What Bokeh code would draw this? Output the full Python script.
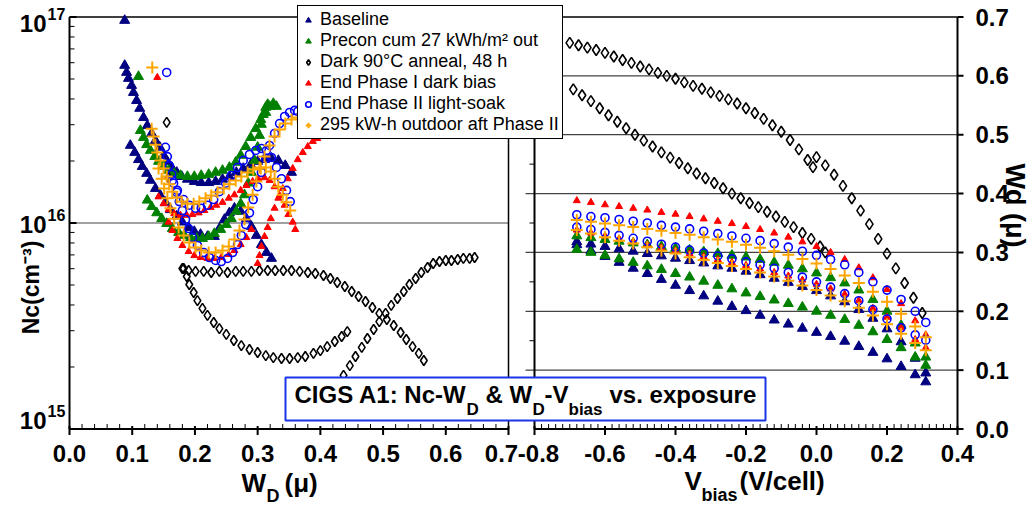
import math
from bokeh.plotting import figure
from bokeh.models import Range1d, LinearScale, LogScale, Label, BoxAnnotation, Legend, LegendItem
from bokeh.core.properties import value
from bokeh.embed import file_html
from bokeh.resources import INLINE

FONT = "Liberation Sans"

# ---------------- Left panel: Nc (units of 1e16 cm^-3) vs W_D (micron) ----------------
base_iso_w = [0.088]
base_iso_nc = [9.62]
base_a_w = [.088,.091,.094,.099,.102,.107,.112,.118,.124,.131,.137,.144,.150,.156,.163,.171,.179,.188,.199,.210,.222,.233,.244,.255,.266,.277,.289,.300,.311,.322,.333,.344,.354]
base_a_nc = [5.82,5.38,5.03,4.65,4.30,3.93,3.60,3.25,2.97,2.72,2.51,2.33,2.13,1.99,1.86,1.76,1.68,1.63,1.59,1.57,1.57,1.59,1.63,1.68,1.76,1.84,1.92,1.99,2.03,2.06,2.01,1.90,1.76]
base_b_w = [.097,.104,.110,.116,.123,.129,.137,.145,.153,.161,.171,.180,.190,.199,.209,.220,.231,.239,.247,.255,.263,.273,.282,.290,.298,.306,.314,.322]
base_b_nc = [2.38,2.20,2.03,1.88,1.74,1.61,1.47,1.36,1.26,1.16,1.08,1.01,.951,.909,.880,.860,.860,.940,1.04,1.12,1.18,1.14,1.05,.962,.870,.786,.719,.673]

pre_iso_w = [0.110]
pre_iso_nc = [5.14]
pre_a_w = [.113,.118,.123,.129,.136,.142,.150,.158,.167,.177,.188,.199,.210,.222,.233,.244,.255,.265,.273,.281,.289,.297,.305,.313,.319,.325,.330]
pre_a_nc = [2.81,2.60,2.40,2.25,2.10,1.99,1.88,1.80,1.74,1.70,1.68,1.68,1.70,1.72,1.76,1.80,1.86,1.97,2.13,2.35,2.60,2.87,3.18,3.44,3.68,3.80,3.68]
pre_b_w = [.124,.131,.139,.147,.155,.164,.174,.183,.193,.203,.212,.222,.231,.241,.250,.258,.266,.273,.279,.285,.290,.295,.300,.303,.306,.309,.313,.316]
pre_b_nc = [1.29,1.20,1.12,1.05,.994,.940,.899,.870,.850,.841,.841,.860,.889,.930,.983,1.05,1.14,1.24,1.37,1.56,1.76,2.01,2.33,2.66,3.01,3.36,3.64,3.76]

dark_iso_w = [.155,.158]
dark_iso_nc = [3.08,1.66]
dark_a_w = [.182,.187,.191,.198,.204,.212,.220,.230,.239,.250,.262,.274,.287,.300,.313,.325,.338,.351,.364,.376,.389,.400,.411,.423,.434,.443]
dark_a_nc = [.601,.550,.503,.460,.420,.385,.356,.329,.307,.288,.269,.254,.243,.235,.227,.222,.220,.220,.222,.225,.233,.240,.251,.266,.281,.297]
dark_b_w = [.180,.190,.201,.214,.226,.239,.252,.265,.277,.290,.303,.316,.328,.341,.354,.367,.380,.392,.405,.416,.427,.439,.450,.461,.472,.483,.494,.506,.517,.528,.537,.547,.557,.565]
dark_b_nc = [.601,.588,.582,.582,.575,.582,.575,.582,.582,.582,.588,.588,.588,.588,.588,.582,.575,.569,.556,.538,.514,.492,.465,.440,.416,.389,.364,.340,.318,.294,.272,.251,.233,.215]
dark_c_w = [.437,.447,.456,.466,.475,.485,.494,.504,.513,.523,.533,.542,.552,.561,.571,.580,.590,.600,.609,.619,.628,.638,.646]
dark_c_nc = [.182,.203,.225,.249,.275,.304,.332,.364,.398,.430,.465,.503,.538,.575,.608,.636,.650,.658,.658,.665,.673,.673,.680]

red_iso_w = [0.140]
red_iso_nc = [5.09]
red_a_w = [.142,.150,.158,.167,.177,.187,.196,.206,.215,.225,.234,.244,.254,.263,.273,.282,.292,.301,.311,.319,.327,.335,.343,.349,.356,.360]
red_a_nc = [1.34,1.24,1.16,1.11,1.09,1.09,1.10,1.12,1.15,1.19,1.22,1.26,1.32,1.37,1.44,1.52,1.59,1.64,1.66,1.61,1.50,1.36,1.22,1.10,1.01,.930]
red_b_w = [.158,.164,.172,.180,.190,.199,.209,.220,.231,.242,.254,.263,.273,.282,.290]
red_b_nc = [1.01,.920,.841,.778,.727,.695,.680,.673,.673,.680,.703,.735,.786,.850,.930]
red_c_w = [.300,.303,.306,.311,.316,.321,.327,.333,.340,.348,.356,.364,.372,.380,.388,.395]
red_c_nc = [.636,.695,.769,.860,.951,1.05,1.18,1.32,1.47,1.64,1.84,2.03,2.20,2.35,2.49,2.57]

blue_iso_w = [0.155]
blue_iso_nc = [5.38]
blue_a_w = [.153,.156,.159,.163,.166,.171,.175,.180,.185,.190,.196,.204,.214,.223,.233,.242,.252,.260,.268,.274,.281,.287,.293,.300,.306,.313,.319,.327,.335,.343,.351,.359,.364]
blue_a_nc = [2.33,2.10,1.90,1.72,1.56,1.41,1.27,1.15,1.04,.940,.850,.778,.719,.680,.658,.650,.673,.719,.786,.870,.983,1.12,1.30,1.50,1.76,2.06,2.38,2.72,3.04,3.29,3.44,3.52,3.48]
blue_b_w = [.164,.172,.182,.191,.201,.210,.220,.230,.239,.249,.258,.268,.277,.287,.297,.306,.314,.322,.330,.338,.346,.352]
blue_b_nc = [1.61,1.44,1.30,1.22,1.18,1.18,1.22,1.30,1.42,1.56,1.70,1.86,2.01,2.15,2.25,2.30,2.25,2.08,1.86,1.64,1.44,1.27]

out_iso_w = [0.132]
out_iso_nc = [5.69]
out_a_w = [.131,.134,.137,.140,.145,.150,.155,.159,.164,.171,.179,.188,.198,.207,.217,.226,.236,.246,.255,.265,.274,.284,.293,.303,.313,.321,.327,.333,.340,.346,.352]
out_a_nc = [2.87,2.63,2.40,2.20,2.01,1.84,1.68,1.54,1.42,1.33,1.27,1.24,1.24,1.27,1.32,1.36,1.41,1.47,1.54,1.61,1.68,1.76,1.82,1.86,1.86,1.78,1.64,1.50,1.37,1.26,1.15]
out_b_w = [.142,.147,.151,.156,.161,.167,.174,.182,.191,.201,.210,.222,.233,.244,.254,.263,.271,.279,.285,.292,.298,.305,.311,.319,.327,.335,.344,.354,.364]
out_b_nc = [1.84,1.64,1.47,1.32,1.18,1.05,.951,.870,.804,.760,.735,.719,.719,.735,.769,.831,.920,1.04,1.19,1.37,1.59,1.84,2.10,2.38,2.63,2.84,3.04,3.18,3.25]

# ---------------- Right panel: W_D (micron) vs V_bias (V/cell) ----------------
vbias = [-0.68,-0.64,-0.60,-0.56,-0.52,-0.48,-0.44,-0.40,-0.36,-0.32,-0.28,-0.24,-0.20,-0.16,-0.12,-0.08,-0.04,0.00,0.04,0.08,0.12,0.16,0.20,0.24,0.28,0.31]
wd_base_1 = [.318,.314,.310,.306,.302,.298,.294,.290,.286,.282,.277,.273,.268,.262,.256,.249,.242,.235,.226,.216,.203,.188,.170,.148,.120,.095]
wd_base_2 = [.313,.303,.293,.283,.273,.264,.254,.244,.235,.226,.217,.208,.201,.193,.185,.178,.171,.164,.157,.149,.140,.130,.119,.106,.092,.080]
wd_pre_1 = [.328,.325,.322,.319,.316,.313,.310,.307,.304,.301,.298,.295,.292,.288,.283,.278,.272,.265,.257,.248,.236,.220,.200,.176,.146,.122]
wd_pre_2 = [.305,.300,.295,.289,.283,.277,.271,.264,.258,.251,.244,.238,.231,.225,.219,.213,.207,.200,.193,.186,.176,.165,.152,.138,.122,.108]
wd_red_1 = [.388,.385,.381,.378,.375,.372,.368,.365,.361,.357,.353,.349,.344,.339,.333,.326,.318,.310,.300,.288,.274,.257,.237,.213,.184,.160]
wd_red_2 = [.338,.333,.328,.323,.318,.313,.308,.303,.298,.293,.288,.283,.278,.272,.266,.260,.253,.246,.238,.229,.218,.205,.190,.172,.152,.138]
wd_blue_1 = [.364,.361,.359,.356,.353,.350,.346,.343,.340,.336,.332,.328,.324,.320,.315,.309,.302,.295,.288,.279,.266,.250,.236,.220,.200,.181]
wd_blue_2 = [.343,.339,.334,.329,.324,.319,.314,.309,.304,.299,.294,.289,.284,.279,.273,.266,.258,.250,.241,.230,.218,.203,.187,.172,.160,.151]
wd_out_1 = [.355,.352,.349,.346,.343,.340,.337,.333,.330,.326,.322,.318,.313,.308,.302,.296,.289,.281,.272,.261,.248,.233,.216,.196,.174,.156]
wd_out_2 = [.338,.332,.326,.320,.315,.309,.303,.298,.292,.287,.282,.277,.272,.266,.259,.252,.244,.236,.227,.217,.206,.193,.178,.162,.146,.134]

dark_r1_v = [-0.700,-0.675,-0.650,-0.625,-0.600,-0.575,-0.550,-0.525,-0.500,-0.475,-0.450,-0.425,-0.400,-0.375,-0.350,-0.325,-0.300,-0.275,-0.250,-0.225,-0.200,-0.175,-0.150,-0.125,-0.100,-0.075,-0.050,-0.025,-0.010,
             0.000,0.025,0.050,0.075,0.100,0.125,0.150,0.175,0.200,0.225,0.250,0.275,0.300]
dark_r1_wd = [.656,.652,.648,.644,.639,.633,.627,.622,.616,.611,.605,.600,.595,.589,.583,.578,.572,.566,.560,.553,.545,.537,.527,.516,.505,.491,.475,.457,.445,
              .462,.448,.432,.413,.392,.371,.348,.323,.298,.273,.248,.223,.197]
dark_r2_v = [-0.690,-0.665,-0.640,-0.615,-0.590,-0.565,-0.540,-0.515,-0.490,-0.465,-0.440,-0.415,-0.390,-0.365,-0.340,-0.315,-0.290,-0.265,-0.240,-0.215,-0.190,-0.165,-0.140,-0.115,-0.090,-0.065,-0.040,-0.015,0.010,0.025]
dark_r2_wd = [.577,.567,.557,.545,.533,.522,.511,.500,.490,.480,.470,.461,.452,.443,.434,.426,.418,.409,.400,.392,.384,.377,.369,.361,.352,.343,.333,.323,.310,.300]

# ---------------- ticks ----------------
w_ticks = [0.0, 0.1, 0.2, 0.3, 0.4, 0.5, 0.6, 0.7]
w_tick_labels = ["0.0", "0.1", "0.2", "0.3", "0.4", "0.5", "0.6", "0.7"]
vb_ticks = [-0.8, -0.6, -0.4, -0.2, 0.0, 0.2, 0.4]
vb_tick_labels = ["-0.8", "-0.6", "-0.4", "-0.2", "0.0", "0.2", "0.4"]
wd_ticks = [0.0, 0.1, 0.2, 0.3, 0.4, 0.5, 0.6, 0.7]
wd_tick_labels = ["0.0", "0.1", "0.2", "0.3", "0.4", "0.5", "0.6", "0.7"]
nc_ticks = [1e15, 1e16, 1e17]
nc_tick_exps = ["15", "16", "17"]
nc_grid = [1e16]
wd_grid = [0.1, 0.2, 0.3, 0.4, 0.5, 0.6]

labels = ["Baseline", "Precon cum 27 kWh/m\u00b2 out", "Dark 90\u00b0C anneal, 48 h",
          "End Phase I dark bias", "End Phase II light-soak", "295 kW-h outdoor aft Phase II"]

# ---------------- geometry (pixel placement of the two panels on the canvas) ----------------
CW, CH = 1031, 507
LX0, LX1 = 69.0, 508.0      # left panel W=0 .. 0.7
RX0, RX1 = 534.0, 957.0     # right panel V=-0.8 .. 0.4
YT, YB = 16.5, 428.5        # top / bottom of both panels
W_PX = 0.7 / (LX1 - LX0)
V_PX = 1.2 / (RX1 - RX0)
WD_PX = 0.7 / (YB - YT)
DEC_PX = 2.0 / (YB - YT)

p = figure(width=CW, height=CH, output_backend="svg", toolbar_location=None,
           x_range=Range1d(-LX0 * W_PX, (CW - LX0) * W_PX),
           y_range=Range1d(10 ** (15 - (CH - YB) * DEC_PX), 10 ** (17 + YT * DEC_PX)),
           y_axis_type="log", x_axis_location=None, y_axis_location=None,
           min_border=0, min_border_left=0, min_border_right=0, min_border_top=0, min_border_bottom=0)
p.y_scale = LogScale()
p.outline_line_color = None
p.grid.visible = False
p.background_fill_color = "white"
p.border_fill_color = "white"
p.extra_x_ranges = {"vb": Range1d(-0.8 - RX0 * V_PX, -0.8 + (CW - RX0) * V_PX)}
p.extra_y_ranges = {"wd": Range1d(-(CH - YB) * WD_PX, 0.7 + YT * WD_PX)}
p.extra_x_scales = {"vb": LinearScale()}
p.extra_y_scales = {"wd": LinearScale()}
R = dict(x_range_name="vb", y_range_name="wd")

def seg(x0, y0, x1, y1, width=1.0, color="black", **kw):
    p.segment(x0=x0, y0=y0, x1=x1, y1=y1, line_color=color, line_width=width, **kw)

# ---- left panel frame, grid, axes ----
seg([0], nc_grid, [0.7], nc_grid, 1.2, "#444444")
seg([0, 0.7], [1e17, 1e15], [0.7, 0.7], [1e17, 1e17], 1.5)
seg([0, 0], [1e15, 1e15], [0, 0.7], [1e17, 1e15], 2)
minor_nc = [k * 10 ** d for d in (15, 16) for k in range(2, 10)]
seg([0] * len(minor_nc), minor_nc, [5 * W_PX] * len(minor_nc), minor_nc, 1)
seg([0] * 3, nc_ticks, [7 * W_PX] * 3, nc_ticks, 2)
seg(w_ticks, [1e15 * 10 ** (-6 * DEC_PX)] * 8, w_ticks, [1e15 * 10 ** (3 * DEC_PX)] * 8, 2)
minor_w = [i * 0.02 for i in range(36) if i % 5]
seg(minor_w, [1e15] * len(minor_w), minor_w, [1e15 * 10 ** (5 * DEC_PX)] * len(minor_w), 1)

# ---- right panel frame, grid, axes ----
seg([-0.8 - 9 * V_PX] * 6, wd_grid, [0.4] * 6, wd_grid, 1.2, "#444444", **R)
seg([-0.8], [0.7], [0.4], [0.7], 1.5, **R)
seg([-0.8, 0.4, -0.8], [0, 0, 0], [-0.8, 0.4, 0.4], [0.7, 0.7, 0], 2, **R)
half = [0.05, 0.15, 0.25, 0.35, 0.45, 0.55, 0.65]
seg([-0.8 - 5 * V_PX] * 7, half, [-0.8] * 7, half, 1, **R)
seg([0.4] * 8, wd_ticks, [0.4 + 6 * V_PX] * 8, wd_ticks, 2, **R)
seg(vb_ticks, [-6 * WD_PX] * 7, vb_ticks, [3 * WD_PX] * 7, 2, **R)
minor_v = [-0.8 + i * 0.02 for i in range(61) if i % 10]
seg(minor_v, [0] * len(minor_v), minor_v, [5 * WD_PX] * len(minor_v), 1, **R)

# ---- tick labels (vertically centred) ----
TK = dict(text_font=value(FONT), text_font_style=value("bold"), text_color="black",
          text_baseline=value("middle"))
p.text(x=w_ticks, y=[1e15] * 8, text=w_tick_labels, x_offset=[0, 0, 0, 0, 0, 0, 0, -7], y_offset=24,
       text_align=value("center"), text_font_size=value("24px"), **TK)
p.text(x=vb_ticks, y=[0] * 7, text=vb_tick_labels, x_offset=[4, 0, 0, 0, 0, 0, 0], y_offset=24,
       text_align=value("center"), text_font_size=value("24px"), **TK, **R)
p.text(x=[0.4] * 8, y=wd_ticks, text=wd_tick_labels, x_offset=18, y_offset=0,
       text_align=value("left"), text_font_size=value("24px"), **TK, **R)
p.text(x=[0] * 3, y=nc_ticks, text=["10"] * 3, x_offset=-23, y_offset=[-9, 1, 6],
       text_align=value("right"), text_font_size=value("24px"), **TK)
p.text(x=[0] * 3, y=nc_ticks, text=nc_tick_exps, x_offset=-22, y_offset=[-18, -8, -3],
       text_align=value("left"), text_font_size=value("16px"), **TK)

# ---- data ----
E16 = 1e16
def left(ws, ncs):
    w, n = [], []
    for a, b in zip(ws, ncs):
        w += a
        n += [v * E16 for v in b]
    return w, n

styles = [
    dict(marker="triangle", size=10, fill_color="#000080", line_color="#000080"),
    dict(marker="triangle", size=10, fill_color="#008000", line_color="#008000"),
    dict(marker="diamond", size=10, fill_color=None, line_color="black", line_width=1.6),
    dict(marker="triangle", size=7, fill_color="#FF0000", line_color="#FF0000"),
    dict(marker="circle", size=8, fill_color=None, line_color="#0000FF", line_width=1.6),
    dict(marker="cross", size=12, line_color="#FFA500", line_width=2),
]
left_sets = [
    left([base_iso_w, base_a_w, base_b_w], [base_iso_nc, base_a_nc, base_b_nc]),
    left([pre_iso_w, pre_a_w, pre_b_w], [pre_iso_nc, pre_a_nc, pre_b_nc]),
    left([dark_iso_w, dark_a_w, dark_b_w, dark_c_w], [dark_iso_nc, dark_a_nc, dark_b_nc, dark_c_nc]),
    left([red_iso_w, red_a_w, red_b_w, red_c_w], [red_iso_nc, red_a_nc, red_b_nc, red_c_nc]),
    left([blue_iso_w, blue_a_w, blue_b_w], [blue_iso_nc, blue_a_nc, blue_b_nc]),
    left([out_iso_w, out_a_w, out_b_w], [out_iso_nc, out_a_nc, out_b_nc]),
]
right_sets = [
    (vbias + vbias, wd_base_1 + wd_base_2),
    (vbias + vbias, wd_pre_1 + wd_pre_2),
    (dark_r1_v + dark_r2_v, dark_r1_wd + dark_r2_wd),
    (vbias + vbias, wd_red_1 + wd_red_2),
    (vbias + vbias, wd_blue_1 + wd_blue_2),
    (vbias + vbias, wd_out_1 + wd_out_2),
]
items = []
for i, st in enumerate(styles):
    lw, ln = left_sets[i]
    r = p.scatter(lw, ln, **st)
    rst = dict(st)
    if i == 2:
        rst["size"] = 11
    rv, rw = right_sets[i]
    p.scatter(rv, rw, **rst, **R)
    items.append(LegendItem(label=labels[i], renderers=[r]))

# ---- legend ----
legend = Legend(items=items, location=(297, CH - 139), orientation="vertical",
                label_text_font=FONT, label_text_font_size="18px", label_text_color="black",
                label_height=20, glyph_height=16, glyph_width=14, label_standoff=5,
                spacing=0, padding=3, margin=0,
                border_line_color="black", border_line_width=1, border_line_alpha=1.0,
                background_fill_color="white", background_fill_alpha=1.0)
p.add_layout(legend, "center")

# ---- title box ----
box = BoxAnnotation(left=285, right=765, bottom=CH - 420, top=CH - 377,
                    left_units="screen", right_units="screen", top_units="screen", bottom_units="screen",
                    fill_color="white", fill_alpha=1.0, line_color="#1a35e8", line_alpha=1.0,
                    line_width=2)
p.add_layout(box)

def lab(x, y, text, size="24px", angle=0.0, align="left"):
    # x, y: canvas pixels of the text's left edge (or centre) and vertical middle
    p.add_layout(Label(x=x, y=CH - y, x_units="screen", y_units="screen", text=text, angle=angle,
                       text_font=FONT, text_font_style="bold", text_font_size=size,
                       text_align=align, text_baseline="middle", text_color="black"))

# title pieces
lab(294, 393.5, "CIGS A1: Nc-W")
lab(466, 409, "D", size="17px")
lab(485, 393.5, "& W")
lab(532, 409, "D", size="17px")
lab(544, 393.5, "-V")
lab(568, 409, "bias", size="17px")
lab(609, 393.5, "vs. exposure")

# axis titles
lab(241, 482, "W", size="26px")
lab(266, 495, "D", size="18px")
lab(284, 482, "(\u03bc)", size="26px")
lab(684, 480, "V", size="26px")
lab(701, 494, "bias", size="18px")
lab(739, 480, "(V/cell)", size="26px")
lab(30, 287, "Nc(cm\u207b\u00b3)", size="23px", angle=math.pi / 2, align="center")
lab(1014, 205, "Wd (\u03bc)", size="27px", angle=-math.pi / 2, align="center")

open("out.html", "w").write(file_html(p, INLINE))
